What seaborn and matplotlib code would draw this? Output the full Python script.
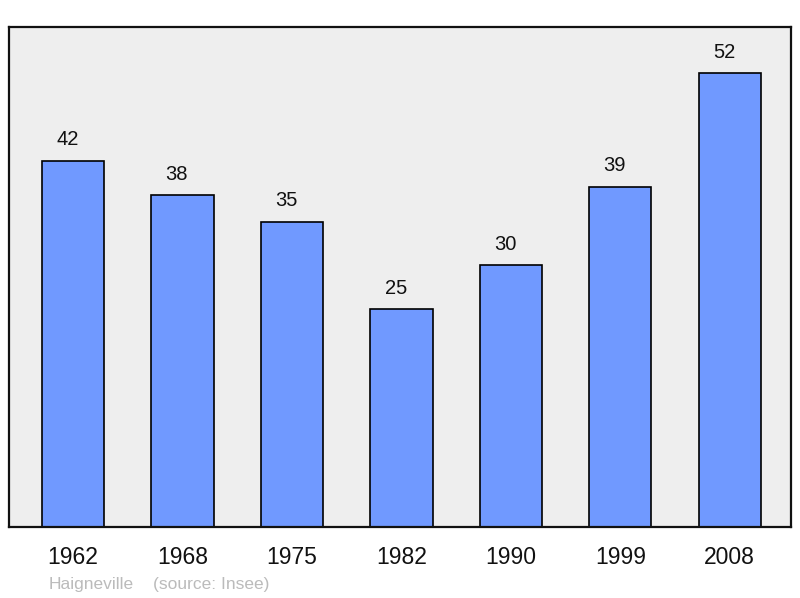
import matplotlib.pyplot as plt
import pandas as pd
import seaborn as sns

# Population data
years = ['1962', '1968', '1975', '1982', '1990', '1999', '2008']
population = [42, 38, 35, 25, 30, 39, 52]
commune = 'Haigneville'
source = '(source: Insee)'

sns.set_theme(style="white")
plt.rcParams['font.family'] = ['Liberation Sans', 'DejaVu Sans']

df = pd.DataFrame({'Year': years, 'Population': population})

fig = plt.figure(figsize=(8, 5.98), dpi=100)
ax = fig.add_axes([9 / 800, 1 - 527 / 598, 782 / 800, 500 / 598])
ax.set_facecolor('#eeeeee')

sns.barplot(data=df, x='Year', y='Population', color='#7099ff', saturation=1,
            width=0.57, edgecolor='black', linewidth=1.2, ax=ax)

# value labels, slightly left of centre as in the original
for i, v in enumerate(population):
    ax.annotate(str(v), (i, v), xytext=(-4, 15), textcoords='offset points',
                ha='center', va='center', fontsize=14.5, color='#111111')

ax.set_xlim(-0.585, 6.56)
ax.set_ylim(0, 57.3)
ax.set_yticks([])
ax.set_xlabel('')
ax.set_ylabel('')
ax.tick_params(axis='x', length=0, pad=13.5, labelsize=16.5, colors='#111111')
for s in ax.spines.values():
    s.set_linewidth(1.6)
    s.set_color('#111111')

fig.text(49 / 800, 1 - 584 / 598, commune, fontsize=12.5,
         color='#bbbbbb', va='center', ha='left')
fig.text(153 / 800, 1 - 584 / 598, source, fontsize=12.5,
         color='#bbbbbb', va='center', ha='left')

fig.savefig('out.png', dpi=100)
